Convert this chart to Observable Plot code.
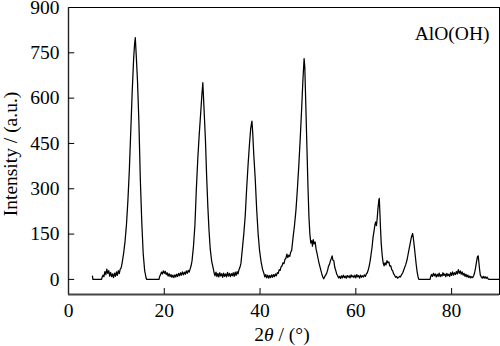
<!DOCTYPE html>
<html><head><meta charset="utf-8">
<script src="https://cdn.jsdelivr.net/npm/d3@7"></script>
<script src="https://cdn.jsdelivr.net/npm/@observablehq/plot@0.6"></script>
<style>body{margin:0;background:#fff} svg{display:block}</style>
</head><body><div id="chart"></div>
<script>
const xTicks = [0, 20, 40, 60, 80];
const yTicks = [0, 150, 300, 450, 600, 750, 900];
const sampleLabel = ["AlO(OH)"];
const yTitle = "Intensity / (a.u.)";
const xTitleParts = ["2", "θ", " / (°)"];

// [2θ (deg), intensity (a.u.)]
const xrd = [
[5.0,11],[5.1,0],[6.9,0],
[7.0,6],[7.2,14],[7.4,9],[7.6,26],[7.8,16],[8.0,34],[8.2,20],[8.4,29],[8.6,11],[8.8,23],[9.0,9],[9.2,18],[9.4,6],[9.6,21],[9.8,10],[10.0,25],[10.2,13],[10.4,29],[10.6,19],[10.8,34],[11.0,38],
[11.2,55],[11.5,85],[11.8,125],[12.1,180],[12.4,260],[12.7,360],[13.0,490],[13.3,620],[13.6,730],[13.8,780],[13.95,800],[14.05,770],[14.15,740],[14.4,660],[14.7,520],[15.0,330],[15.3,190],[15.6,85],[15.9,30],[16.2,5],[16.35,0],
[18.9,0],[19.0,8],[19.2,15],[19.4,24],[19.6,18],[19.8,28],[20.0,20],[20.2,27],[20.4,16],[20.6,22],[20.8,11],[21.0,19],[21.2,9],[21.4,16],[21.6,7],[21.8,14],[22.0,6],[22.2,15],[22.4,8],[22.6,17],[22.8,10],[23.0,20],[23.2,12],[23.4,22],[23.6,14],[23.8,25],[24.0,15],[24.2,24],[24.4,17],[24.6,28],[24.8,20],[25.0,30],[25.2,24],[25.4,35],[25.6,45],[25.8,62],
[26.1,110],[26.4,180],[26.7,300],[27.0,400],[27.3,480],[27.6,550],[27.85,610],[28.05,651],[28.2,600],[28.4,530],[28.6,460],[28.85,340],[29.1,240],[29.35,160],[29.6,100],[29.9,60],[30.2,38],
[30.4,22],[30.6,12],[30.8,24],[31.0,9],[31.2,20],[31.4,8],[31.6,22],[31.8,11],[32.0,19],[32.2,7],[32.4,21],[32.6,10],[32.8,18],[33.0,8],[33.2,23],[33.4,11],[33.6,20],[33.8,9],[34.0,19],[34.2,12],[34.4,22],[34.6,10],[34.8,24],[35.0,13],[35.2,26],[35.4,18],[35.6,32],[35.8,40],[36.0,52],
[36.3,100],[36.6,150],[36.9,210],[37.2,300],[37.5,380],[37.8,450],[38.05,500],[38.3,524],[38.45,490],[38.7,410],[39.0,330],[39.3,230],[39.6,150],[39.9,95],[40.2,60],[40.5,35],[40.8,20],
[41.0,8],[41.2,16],[41.4,5],[41.6,14],[41.8,4],[42.0,13],[42.2,6],[42.4,15],[42.6,7],[42.8,16],[43.0,9],[43.2,18],[43.4,12],[43.6,22],[43.8,20],[44.0,32],[44.2,30],[44.4,42],[44.6,45],[44.8,55],[45.0,52],[45.2,66],[45.4,70],[45.6,84],[45.8,72],[46.0,80],[46.2,76],[46.4,90],[46.6,96],
[46.9,140],[47.2,180],[47.5,230],[47.8,300],[48.1,380],[48.4,470],[48.7,570],[48.95,660],[49.2,731],[49.35,700],[49.55,580],[49.8,430],[50.0,310],[50.2,210],[50.4,150],[50.6,120],[50.8,128],[50.95,110],[51.1,132],[51.3,118],[51.5,124],[51.7,100],[51.9,86],[52.1,70],[52.3,55],[52.5,42],[52.7,30],[52.9,18],[53.1,8],[53.3,2],[53.5,9],[53.7,14],[53.9,20],
[54.1,30],[54.3,44],[54.5,50],[54.7,62],[54.9,70],[55.05,78],[55.2,64],[55.4,62],[55.6,40],[55.8,30],[56.0,18],[56.2,12],[56.4,5],
[56.6,10],[56.8,3],[57.0,12],[57.2,5],[57.4,14],[57.6,6],[57.8,11],[58.0,4],[58.2,13],[58.4,7],[58.6,12],[58.8,5],[59.0,15],[59.2,8],[59.4,12],[59.6,6],[59.8,14],[60.0,5],[60.2,16],[60.4,8],[60.6,13],[60.8,4],[61.0,14],[61.2,7],[61.4,12],[61.6,8],[61.8,15],[62.0,10],[62.2,18],
[62.4,22],[62.6,32],[62.8,45],[63.0,62],[63.2,85],[63.4,108],[63.6,140],[63.8,160],[64.0,182],[64.15,190],[64.3,178],[64.45,200],[64.6,230],[64.8,262],[64.9,268],[65.0,230],[65.15,170],[65.3,120],[65.5,80],[65.7,55],[65.9,45],[66.1,55],[66.3,48],[66.5,62],[66.7,55],[66.9,58],[67.1,44],[67.3,45],[67.5,32],[67.7,28],[67.9,18],[68.1,14],[68.3,7],[68.5,10],[68.7,4],[68.9,6],[69.1,10],[69.3,8],[69.5,14],
[69.8,22],[70.1,35],[70.4,48],[70.7,65],[71.0,90],[71.3,115],[71.6,140],[71.85,152],[72.0,138],[72.2,110],[72.4,80],[72.6,50],[72.8,25],[73.0,8],[73.15,0],
[75.5,0],[75.6,8],[75.8,16],[76.0,10],[76.2,20],[76.4,12],[76.6,18],[76.8,8],[77.0,17],[77.2,10],[77.4,21],[77.6,9],[77.8,16],[78.0,11],[78.2,22],[78.4,13],[78.6,18],[78.8,9],[79.0,20],[79.2,12],[79.4,17],[79.6,10],[79.8,22],[80.0,13],[80.2,25],[80.4,14],[80.6,22],[80.8,16],[81.0,26],[81.2,18],[81.4,32],[81.6,20],[81.8,28],[82.0,17],[82.2,25],[82.4,14],[82.6,20],[82.8,10],[83.0,17],[83.2,8],[83.4,14],[83.6,6],[83.8,11],[84.0,5],[84.2,9],
[84.4,6],[84.6,12],[84.8,22],[85.0,38],[85.2,58],[85.4,75],[85.55,78],[85.7,55],[85.85,32],[86.0,14],[86.2,8],[86.4,4],[86.6,10],[86.8,4],[87.0,9],[87.2,3],[87.4,8],[87.6,2],[87.8,0],[90,0]
];
const data = xrd.map(([t, i]) => ({t, i}));

const font = "'Liberation Serif', 'Times New Roman', serif";
const plot = Plot.plot({
  width: 500, height: 346,
  marginLeft: 68, marginRight: 1, marginTop: 7, marginBottom: 52,
  style: {fontFamily: font, fontSize: "19.5px", background: "#fff", color: "#000", overflow: "visible"},
  x: {domain: [0, 90], label: null},
  y: {domain: [-50, 900], label: null},
  marks: [
    Plot.frame({stroke: "#000", strokeWidth: 1}),
    Plot.ruleY([-50], {stroke: "#444", strokeWidth: 2}),
    Plot.ruleX([0], {stroke: "#222", strokeWidth: 1.4}),
    Plot.axisX(xTicks, {tickSize: 0, tickPadding: 9, fontSize: 19.5, fontFamily: font}),
    Plot.axisY(yTicks, {tickSize: 0, tickPadding: 9, fontSize: 19.5, fontFamily: font}),
    Plot.ruleX(xTicks.filter(d => d > 0), {y1: -50, y2: -30, stroke: "#000", strokeWidth: 1}),
    Plot.ruleY(yTicks.filter(d => d < 900), {x1: 0, x2: 1.3, stroke: "#000", strokeWidth: 1}),
    Plot.line(data, {x: "t", y: "i", stroke: "#000", strokeWidth: 1.25}),
    Plot.text(sampleLabel, {text: d => d, frameAnchor: "top-right", dx: -10, dy: 19, textAnchor: "end", fontSize: 19.5, fontFamily: font, fill: "#000"})
  ]
});
document.getElementById("chart").appendChild(plot);

const svg = d3.select(plot);
svg.append("text")
  .attr("transform", "translate(16.5,154) rotate(-90)")
  .attr("text-anchor", "middle")
  .attr("font-family", font).attr("font-size", 19.5).attr("fill", "#000")
  .text(yTitle);
const xt = svg.append("text")
  .attr("x", 282).attr("y", 341)
  .attr("text-anchor", "middle")
  .attr("font-family", font).attr("font-size", 19.5).attr("fill", "#000");
xt.append("tspan").text(xTitleParts[0]);
xt.append("tspan").attr("font-style", "italic").text(xTitleParts[1]);
xt.append("tspan").text(xTitleParts[2]);
</script></body></html>
